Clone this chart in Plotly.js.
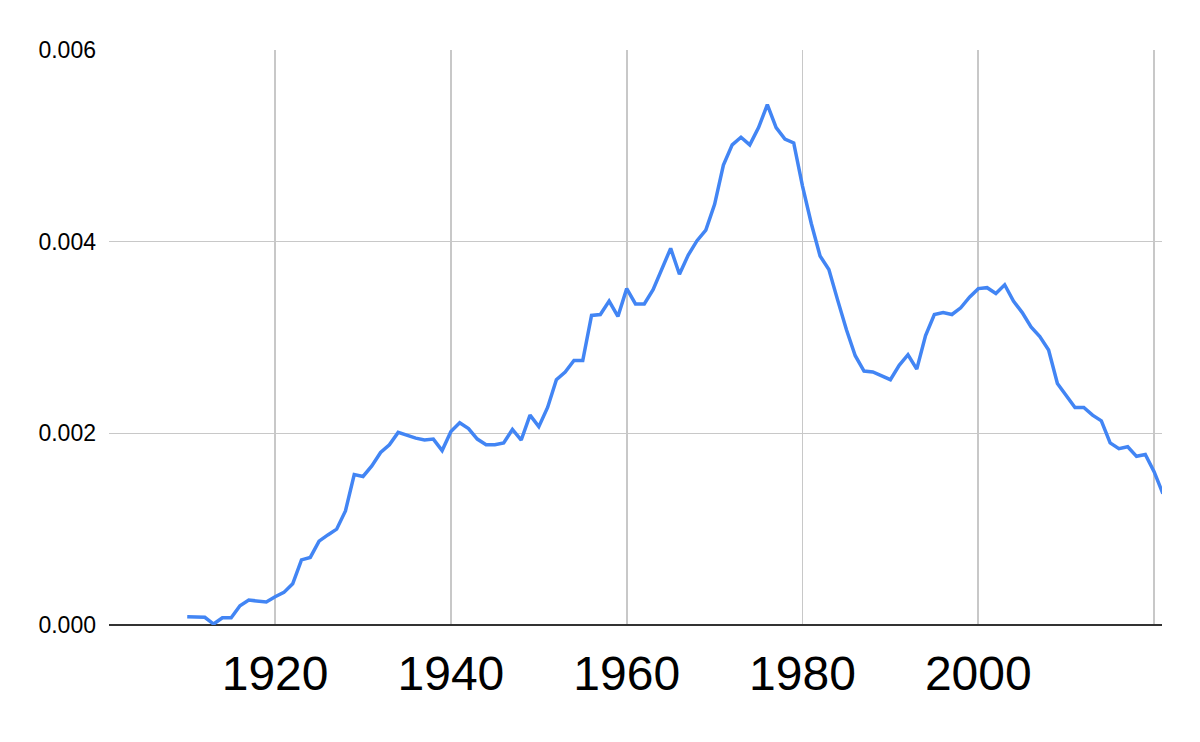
<!DOCTYPE html>
<html>
<head>
<meta charset="utf-8">
<script src="https://cdn.plot.ly/plotly-3.0.1.min.js"></script>
<style>html,body{margin:0;padding:0;background:#fff;}#chart{width:1200px;height:742px;}</style>
</head>
<body>
<div id="chart"></div>
<script>
const years = [1910,1911,1912,1913,1914,1915,1916,1917,1918,1919,
1920,1921,1922,1923,1924,1925,1926,1927,1928,1929,
1930,1931,1932,1933,1934,1935,1936,1937,1938,1939,
1940,1941,1942,1943,1944,1945,1946,1947,1948,1949,
1950,1951,1952,1953,1954,1955,1956,1957,1958,1959,
1960,1961,1962,1963,1964,1965,1966,1967,1968,1969,
1970,1971,1972,1973,1974,1975,1976,1977,1978,1979,
1980,1981,1982,1983,1984,1985,1986,1987,1988,1989,
1990,1991,1992,1993,1994,1995,1996,1997,1998,1999,
2000,2001,2002,2003,2004,2005,2006,2007,2008,2009,
2010,2011,2012,2013,2014,2015,2016,2017,2018,2019,
2020,2021];
const values = [0.000086,0.000083,0.00008,0.00001,0.000076,0.000076,0.0002,0.00026,0.00025,0.00024,
0.000295,0.00034,0.00043,0.00068,0.000705,0.000875,0.00094,0.001,0.00119,0.00157,
0.00155,0.00166,0.0018,0.00188,0.00201,0.00198,0.00195,0.00193,0.00194,0.00182,
0.00202,0.00211,0.00205,0.00194,0.00188,0.00188,0.0019,0.00204,0.00193,0.00219,
0.00207,0.00227,0.00256,0.00264,0.00276,0.00276,0.00323,0.00324,0.00338,0.00322,
0.00351,0.00335,0.00335,0.0035,0.00372,0.00393,0.00366,0.00386,0.00401,0.00412,
0.00439,0.0048,0.00501,0.00509,0.00501,0.00519,0.00543,0.00519,0.00507,0.00503,
0.00458,0.00419,0.00385,0.00371,0.00339,0.00308,0.00281,0.00265,0.00264,0.0026,
0.00256,0.00271,0.00282,0.00267,0.00302,0.00324,0.00326,0.00324,0.00331,0.00342,
0.00351,0.00352,0.00346,0.00355,0.00338,0.00326,0.00311,0.00301,0.00287,0.00252,
0.00239,0.00227,0.00227,0.00219,0.00213,0.0019,0.00184,0.00186,0.00176,0.00178,
0.0016,0.00137];
const xTickVals = [1920,1940,1960,1980,2000,2020];
const xTickText = ['1920','1940','1960','1980','2000',''];
const yTickVals = [0,0.002,0.004,0.006];
const yTickText = ['0.000','0.002','0.004','0.006'];

const trace = {
  x: years, y: values, type: 'scatter', mode: 'lines',
  line: {color: '#4285F4', width: 3.5}, hoverinfo: 'x+y'
};
const layout = {
  width: 1200, height: 742,
  margin: {l: 109, r: 38, t: 50, b: 117},
  paper_bgcolor: '#ffffff', plot_bgcolor: '#ffffff',
  showlegend: false,
  font: {family: 'Arial, "Liberation Sans", sans-serif', color: '#000000'},
  xaxis: {
    range: [1901.1, 2020.9],
    tickmode: 'array', tickvals: xTickVals, ticktext: xTickText,
    showgrid: true, gridcolor: '#c8c8c8', gridwidth: 1.6,
    zeroline: false, showline: false, ticks: '',
    tickfont: {size: 48, family: 'Arial, "Liberation Sans", sans-serif', color: '#000'},
    ticklabelstandoff: 16
  },
  yaxis: {
    range: [0, 0.006],
    tickmode: 'array', tickvals: yTickVals, ticktext: yTickText,
    showgrid: true, gridcolor: '#c8c8c8', gridwidth: 1.6,
    zeroline: true, zerolinecolor: '#333333', zerolinewidth: 1.6,
    showline: false, ticks: '',
    tickfont: {size: 23, family: 'Arial, "Liberation Sans", sans-serif', color: '#000'},
    ticklabelstandoff: 12
  }
};
Plotly.newPlot('chart', [trace], layout, {displayModeBar: false, staticPlot: true});
</script>
</body>
</html>
